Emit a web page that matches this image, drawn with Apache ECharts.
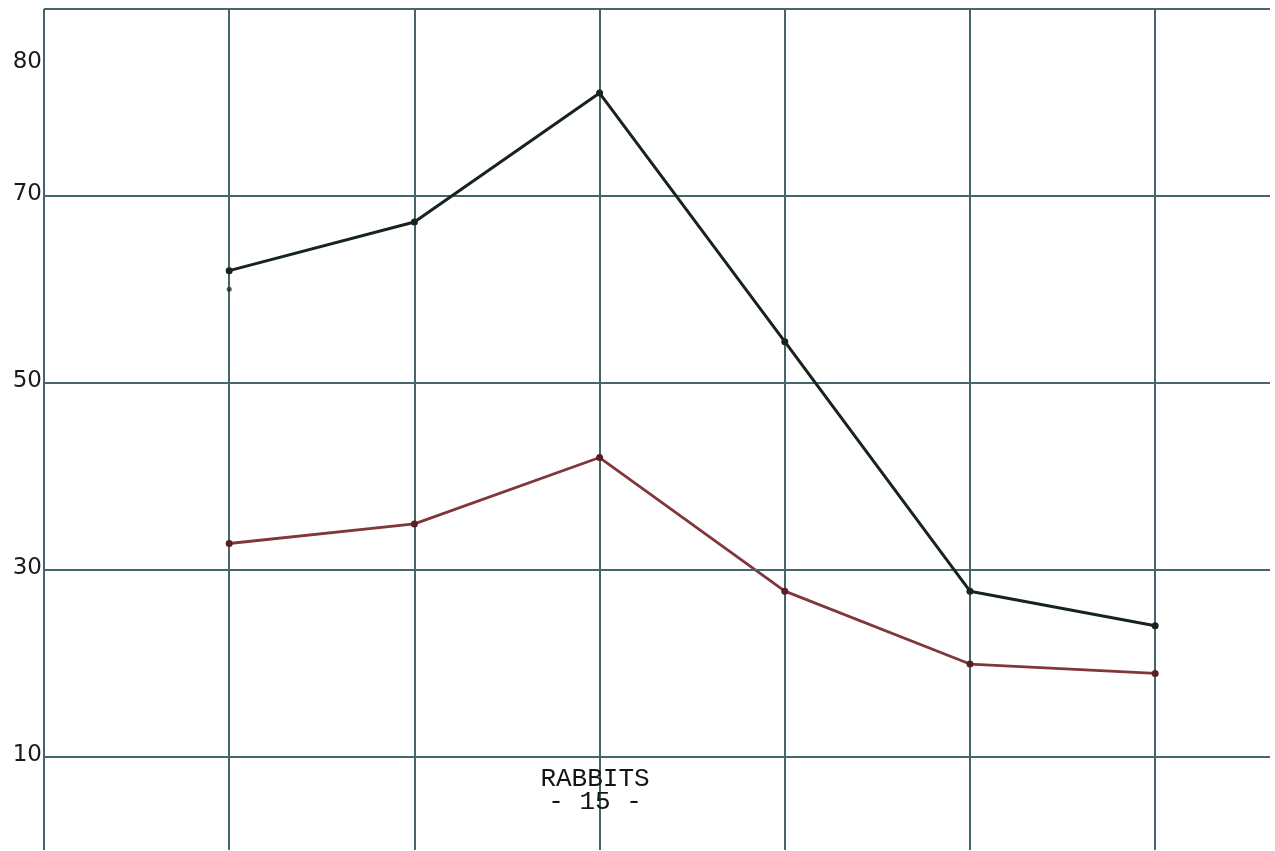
<!DOCTYPE html>
<html>
<head>
<meta charset="utf-8">
<script src="https://cdn.jsdelivr.net/npm/echarts@6/dist/echarts.min.js"></script>
<style>
  html, body { margin: 0; padding: 0; background: #ffffff; }
  #chart { width: 1275px; height: 851px; }
</style>
</head>
<body>
<div id="chart"></div>
<script>
// ---- data ----
const xPositions = [1, 2, 3, 4, 5, 6];
const upperValues = [62, 67.2, 81, 54.4, 27.7, 24];
const lowerValues = [32.8, 34.9, 42, 27.7, 19.9, 18.9];
const strayPoints = [[1, 60]];
const yTickLabels = [10, 30, 50, 70, 80];
const horizontalLines = [10, 30, 50, 70, 90];
const titleLines = ['RABBITS', '- 15 -'];

const gridColor = '#45656b';

const chart = echarts.init(document.getElementById('chart'), null, { renderer: 'canvas' });

const toPairs = (vals) => vals.map((v, i) => [xPositions[i], v]);

chart.setOption({
  backgroundColor: '#ffffff',
  animation: false,
  title: {
    text: titleLines.join('\n'),
    left: 590,
    top: 763,
    textAlign: 'center',
    textStyle: {
      fontFamily: 'Liberation Mono',
      fontSize: 26,
      fontWeight: 'normal',
      color: '#141414',
      lineHeight: 23
    }
  },
  grid: { left: 44, right: 5, top: 9, bottom: 1, containLabel: false },
  xAxis: {
    type: 'value',
    min: 0,
    max: 6.62,
    interval: 1,
    axisLine: { show: false },
    axisTick: { show: false },
    axisLabel: { show: false },
    splitLine: { show: true, showMaxLine: false, lineStyle: { color: gridColor, width: 2 } }
  },
  yAxis: {
    type: 'value',
    min: 0,
    max: 90,
    interval: 10,
    axisLine: { show: false },
    axisTick: { show: false },
    splitLine: { show: false },
    axisLabel: {
      margin: 2,
      fontFamily: 'DejaVu Sans',
      fontSize: 23,
      color: '#1a1a1a',
      formatter: function (v) {
        if (yTickLabels.indexOf(v) < 0) return '';
        if (v === 80) return '{up|' + v + '}';
        return '{n|' + v + '}';
      },
      rich: {
        up: { fontFamily: 'DejaVu Sans', fontSize: 23, color: '#1a1a1a', padding: [0, 0, 80, 0] },
        n: { fontFamily: 'DejaVu Sans', fontSize: 23, color: '#1a1a1a', padding: [0, 0, 4, 0] }
      }
    }
  },
  series: [
    {
      name: 'grid',
      type: 'line',
      data: [],
      silent: true,
      markLine: {
        silent: true,
        symbol: 'none',
        label: { show: false },
        lineStyle: { color: gridColor, width: 2, type: 'solid' },
        data: horizontalLines.map(v => ({ yAxis: v }))
      }
    },
    {
      name: 'upper',
      type: 'line',
      data: toPairs(upperValues),
      symbol: 'circle',
      symbolSize: 7,
      lineStyle: { color: '#16231f', width: 3 },
      itemStyle: { color: '#16231f' },
      z: 5
    },
    {
      name: 'lower',
      type: 'line',
      data: toPairs(lowerValues),
      symbol: 'circle',
      symbolSize: 7,
      lineStyle: { color: '#80363b', width: 2.8 },
      itemStyle: { color: '#5a1f26' },
      z: 4
    },
    {
      name: 'stray',
      type: 'scatter',
      data: strayPoints,
      symbol: 'circle',
      symbolSize: 5,
      itemStyle: { color: '#1f2f2b' },
      z: 5
    }
  ]
});
</script>
</body>
</html>
